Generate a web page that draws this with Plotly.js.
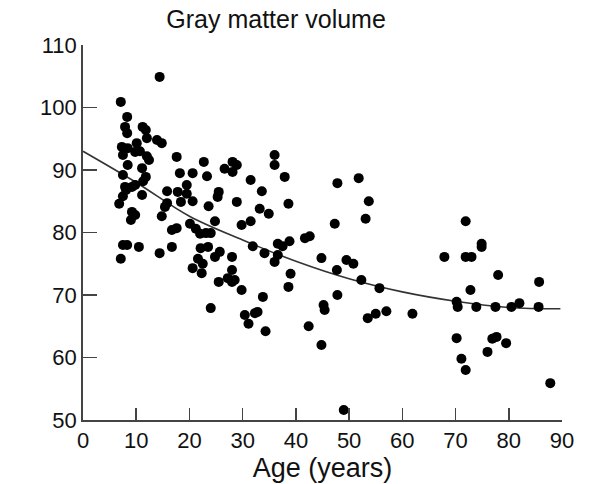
<!DOCTYPE html>
<html>
<head>
<meta charset="utf-8">
<script src="https://cdn.plot.ly/plotly-3.0.1.min.js"></script>
<style>html,body{margin:0;padding:0;background:#fff;}#chart{width:595px;height:484px;}</style>
</head>
<body>
<div id="chart"></div>
<script>
// Subject ages (years) and gray matter volume
const ages = [
  14.4, 7.1, 8.3, 7.9, 8.3, 11.2, 11.8, 12.0, 13.9, 14.8,
  10.1, 7.3, 8.4, 9.8, 10.7, 7.5, 12.0, 12.4, 17.6, 8.4,
  11.1, 18.2, 20.6, 7.5, 11.8, 11.3, 19.5, 7.9, 9.2, 9.8,
  8.1, 15.8, 17.8, 19.5, 7.5, 11.1, 20.6, 18.4, 15.8, 15.4,
  6.8, 9.2, 9.8, 9.0, 14.8, 16.7, 17.6, 20.1, 21.2, 22.0,
  23.1, 24.0, 7.5, 8.3, 10.5, 16.7, 14.4, 7.1, 20.6,
  22.7, 28.1, 28.9, 26.6, 28.1, 23.3, 31.5, 36.0, 36.0, 37.9,
  25.5, 25.3, 33.6, 28.9, 23.6, 38.6, 33.2, 34.9, 24.8, 31.5,
  29.8, 31.9, 36.6, 37.5, 38.8, 34.1, 22.1, 23.5, 25.7, 28.0,
  36.6, 36.0, 21.6, 22.5, 24.8, 22.3, 28.0, 25.5, 27.2, 28.0,
  28.5, 39.0, 29.8, 38.6, 33.8, 24.0, 30.4, 32.3, 32.8, 31.1,
  34.3,
  47.8, 51.8, 53.7, 47.3, 53.1, 41.7, 42.6, 44.8, 49.5, 50.8,
  47.7, 52.3, 55.7, 47.8, 45.2, 45.4, 57.0, 53.5, 55.0, 42.4,
  44.8, 49.0, 61.9,
  71.9, 74.9, 74.9, 67.9, 71.9, 73.0, 78.0, 85.7, 72.8, 70.2,
  70.4, 73.9, 77.5, 80.5, 82.0, 85.6, 70.2, 76.9, 77.7, 79.5,
  76.0, 71.1, 71.9, 87.8
];
const volumes = [
  104.9, 100.9, 98.5, 96.9, 95.9, 96.9, 96.4, 95.1, 94.8, 94.3,
  94.3, 93.7, 93.5, 92.9, 93.0, 92.4, 92.2, 91.6, 92.1, 90.8,
  90.3, 89.5, 89.5, 89.2, 88.9, 88.2, 87.6, 87.3, 87.3, 87.6,
  86.8, 86.6, 86.5, 86.2, 85.8, 86.0, 85.0, 84.9, 84.7, 84.1,
  84.6, 83.3, 82.8, 82.0, 82.6, 80.4, 80.7, 81.4, 80.6, 79.8,
  79.9, 79.9, 78.0, 78.0, 77.7, 77.7, 76.7, 75.8, 74.3,
  91.3, 91.3, 90.8, 90.2, 89.7, 89.0, 88.4, 92.4, 90.8, 88.9,
  86.5, 85.7, 86.6, 84.9, 84.2, 84.6, 83.8, 83.0, 81.8, 81.8,
  81.2, 77.8, 78.2, 77.8, 78.6, 76.7, 77.5, 77.7, 76.9, 76.1,
  76.4, 75.3, 75.8, 75.0, 76.1, 73.5, 74.0, 72.1, 72.7, 72.1,
  72.4, 73.4, 70.8, 71.3, 69.7, 67.9, 66.8, 67.1, 67.3, 65.4,
  64.2,
  87.9, 88.7, 85.0, 81.4, 82.2, 79.1, 79.4, 75.9, 75.6, 75.0,
  74.0, 72.4, 71.1, 70.0, 68.4, 67.6, 67.4, 66.3, 67.0, 65.0,
  62.0, 51.6, 67.0,
  81.8, 78.2, 77.7, 76.1, 76.1, 76.1, 73.2, 72.1, 70.8, 68.9,
  68.1, 68.1, 68.1, 68.1, 68.7, 68.1, 63.1, 63.0, 63.3, 62.3,
  60.9, 59.8, 58.0, 55.9
];
// Fitted trend curve
const fitAges = [0, 10, 20, 30, 40, 50, 60, 70, 80, 89.7];
const fitVolumes = [93.0, 88.0, 82.6, 78.8, 75.4, 72.6, 70.5, 69.0, 68.0, 67.8];

const xTicks = [0, 10, 20, 30, 40, 50, 60, 70, 80, 90];
const yTicks = [50, 60, 70, 80, 90, 100, 110];

const FONT = 'Liberation Sans, Arial, Helvetica, sans-serif';

const traces = [
  {
    x: fitAges, y: fitVolumes, type: 'scatter', mode: 'lines',
    line: {color: '#333', width: 1.6, shape: 'spline'},
    hoverinfo: 'skip'
  },
  {
    x: ages, y: volumes, type: 'scatter', mode: 'markers',
    marker: {color: '#000', size: 10, line: {width: 0}}
  }
];

const layout = {
  width: 595, height: 484,
  margin: {l: 83, r: 33, t: 45, b: 64},
  paper_bgcolor: '#fff', plot_bgcolor: '#fff',
  showlegend: false,
  font: {family: FONT, color: '#111'},
  title: {text: 'Gray matter volume', font: {family: FONT, size: 25, color: '#111'},
          x: 0.464, xanchor: 'center', y: 0.96, yanchor: 'middle'},
  xaxis: {
    range: [0, 90], tickvals: xTicks, ticktext: xTicks.map(String),
    showgrid: false, zeroline: false,
    showline: true, linecolor: '#444', linewidth: 1.8,
    ticks: 'inside', ticklen: 12, tickwidth: 1.5, tickcolor: '#444',
    tickfont: {family: FONT, size: 22, color: '#111'},
    title: {text: 'Age (years)', font: {family: FONT, size: 27, color: '#111'}, standoff: 2}
  },
  yaxis: {
    range: [50, 110], tickvals: yTicks, ticktext: yTicks.map(String),
    showgrid: false, zeroline: false,
    showline: true, linecolor: '#444', linewidth: 1.8,
    ticks: 'inside', ticklen: 14, tickwidth: 1.5, tickcolor: '#444',
    tickfont: {family: FONT, size: 22, color: '#111'}
  }
};

Plotly.newPlot('chart', traces, layout, {staticPlot: true, displayModeBar: false});
</script>
</body>
</html>
